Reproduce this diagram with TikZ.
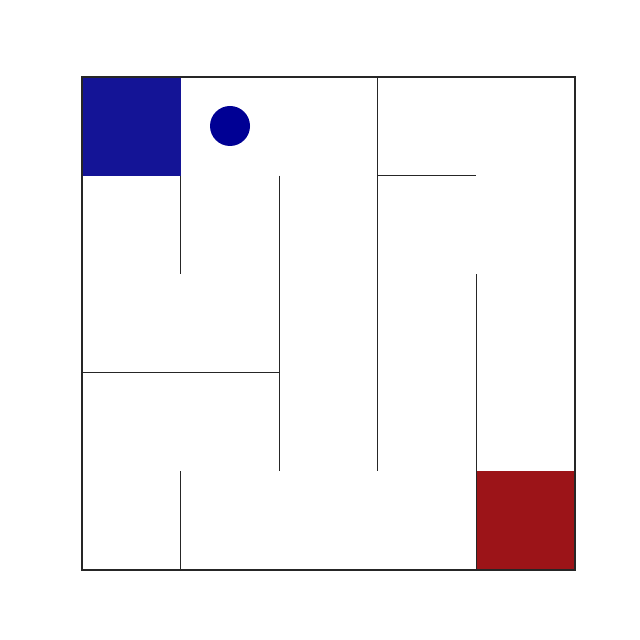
\documentclass[tikz,border=0pt]{standalone}
\definecolor{startblue}{HTML}{141496}
\definecolor{dotblue}{HTML}{000094}
\definecolor{goalred}{HTML}{9C1418}
\begin{document}
\begin{tikzpicture}[x=0.01cm,y=-0.01cm,
  wall/.style={draw=black!85,line width=0.3pt}]
\useasboundingbox (0,0) rectangle (640,640);
\fill[white] (0,0) rectangle (640,640);
% start and goal cells
\fill[startblue] (82,77) rectangle (180.6,175.6);
\fill[goalred] (476.4,471.4) rectangle (575,570);
% agent
\fill[dotblue] (230,126) circle (20);
% outer border
\draw[wall] (82,77) rectangle (575,570);
% internal walls
\draw[wall] (180.6,175.6) -- (180.6,274.2);
\draw[wall] (279.2,175.6) -- (279.2,471.4);
\draw[wall] (377.8,77) -- (377.8,471.4);
\draw[wall] (377.8,175.6) -- (476.4,175.6);
\draw[wall] (476.4,274.2) -- (476.4,570);
\draw[wall] (82,372.8) -- (279.2,372.8);
\draw[wall] (180.6,471.4) -- (180.6,570);
\end{tikzpicture}
\end{document}
